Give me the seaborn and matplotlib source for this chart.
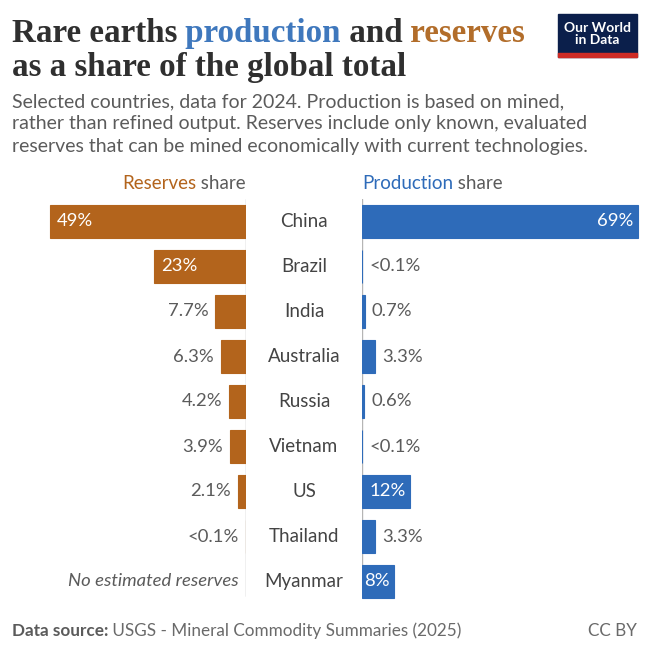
import matplotlib
matplotlib.use("Agg")
import matplotlib.pyplot as plt
import matplotlib.patches as mpatches
import matplotlib.transforms as mtransforms
import seaborn as sns
import pandas as pd
import numpy as np

countries = ["China", "Brazil", "India", "Australia", "Russia", "Vietnam", "US", "Thailand", "Myanmar"]
reserves = [49, 23, 7.7, 6.3, 4.2, 3.9, 2.1, 0.05, np.nan]
production = [69, 0.05, 0.7, 3.3, 0.6, 0.05, 12, 3.3, 8]
reserves_labels = ["49%", "23%", "7.7%", "6.3%", "4.2%", "3.9%", "2.1%", "<0.1%", "No estimated reserves"]
production_labels = ["69%", "<0.1%", "0.7%", "3.3%", "0.6%", "<0.1%", "12%", "3.3%", "8%"]

BROWN = "#b3641c"
BLUE = "#2e6bb9"
GREY = "#5b5b5b"
DARK = "#2f2f2f"

sns.set_theme(style="white")
plt.rcParams["font.family"] = ["Lato", "DejaVu Sans"]

fig = plt.figure(figsize=(6.5, 6.5), dpi=100)
W = H = 650.0


def fx(px):
    return px / W


def fy(py):
    return 1 - py / H


df_r = pd.DataFrame({"country": countries, "share": reserves}).dropna()
df_p = pd.DataFrame({"country": countries, "share": production})

top, bottom = 199, 604
ax_l = fig.add_axes([fx(40), fy(bottom), fx(206), (bottom - top) / H])
ax_r = fig.add_axes([fx(362), fy(bottom), fx(278), (bottom - top) / H])

sns.barplot(data=df_r, x="share", y="country", order=countries, orient="h",
            color=BROWN, width=0.73, ax=ax_l, saturation=1,
            edgecolor=BROWN, linewidth=0.8, zorder=2)
sns.barplot(data=df_p, x="share", y="country", order=countries, orient="h",
            color=BLUE, width=0.73, ax=ax_r, saturation=1,
            edgecolor=BLUE, linewidth=0.8, zorder=2)

ax_l.set_xlim(51.5, 0)
ax_r.set_xlim(0, 69.5)
for ax in (ax_l, ax_r):
    ax.set_ylim(8.5, -0.5)
    ax.axis("off")
    ax.axvline(0, color="#b5b5b5", lw=1, ymin=0.02, ymax=1, zorder=0.5)

fs = 13.3
inside = 8
for i, (v, lab) in enumerate(zip(reserves, reserves_labels)):
    if np.isnan(v):
        ax_l.annotate(lab, xy=(0, i), xytext=(-5, 0), textcoords="offset points",
                      ha="right", va="center", fontsize=fs, color=GREY, style="italic")
    elif v >= inside:
        ax_l.annotate(lab, xy=(v, i), xytext=(5, 0), textcoords="offset points",
                      ha="left", va="center", fontsize=fs, color="white")
    else:
        ax_l.annotate(lab, xy=(v, i), xytext=(-5, 0), textcoords="offset points",
                      ha="right", va="center", fontsize=fs, color=GREY)

for i, (v, lab) in enumerate(zip(production, production_labels)):
    if v >= inside:
        ax_r.annotate(lab, xy=(v, i), xytext=(-3, 0), textcoords="offset points",
                      ha="right", va="center", fontsize=fs, color="white")
    else:
        ax_r.annotate(lab, xy=(v, i), xytext=(5, 0), textcoords="offset points",
                      ha="left", va="center", fontsize=fs, color=GREY)

# country names in the middle column
tr = mtransforms.blended_transform_factory(fig.transFigure, ax_l.transData)
for i, c in enumerate(countries):
    fig.text(fx(304), i, c, transform=tr, ha="center", va="center",
             fontsize=13.5, color="#444444")

renderer = fig.canvas.get_renderer()


def pieces(x, y, parts, **kw):
    for txt, color, weight in parts:
        t = fig.text(x, y, txt, color=color, fontweight=weight, va="baseline", **kw)
        bb = t.get_window_extent(renderer)
        x = fig.transFigure.inverted().transform((bb.x1, bb.y0))[0]


serif = ["Liberation Serif", "DejaVu Serif"]
pieces(fx(12), fy(42), [("Rare earths", DARK, "bold"), (" production", "#3f78bd", "bold"),
                         (" and", DARK, "bold"), (" reserves", "#b26d2a", "bold")],
       fontsize=23.8, family=serif)
fig.text(fx(12), fy(76), "as a share of the global total", fontsize=23.8, family=serif,
         fontweight="bold", color=DARK, va="baseline")

subtitle = ["Selected countries, data for 2024. Production is based on mined,",
            "rather than refined output. Reserves include only known, evaluated",
            "reserves that can be mined economically with current technologies."]
for k, line in enumerate(subtitle):
    fig.text(fx(12), fy(107 + 22.5 * k), line, fontsize=14, color=GREY, va="baseline")

# column headers
t = fig.text(fx(246), fy(189), " share", fontsize=13.5, color=GREY, ha="right", va="baseline")
bb = t.get_window_extent(renderer)
fig.text(fig.transFigure.inverted().transform((bb.x0, 0))[0], fy(189), "Reserves",
         fontsize=13.5, color=BROWN, ha="right", va="baseline")
pieces(fx(362), fy(189), [("Production", BLUE, "normal"), (" share", GREY, "normal")], fontsize=13.5)

# footer
pieces(fx(12), fy(636), [("Data source:", GREY, "bold"),
                         (" USGS - Mineral Commodity Summaries (2025)", "#6a6a6a", "normal")],
       fontsize=12.3)
fig.text(fx(637), fy(636), "CC BY", fontsize=12.3, color="#6a6a6a", ha="right", va="baseline")

# logo
fig.patches.append(mpatches.Rectangle((fx(558), fy(57)), fx(79), (57 - 14) / H,
                                      transform=fig.transFigure, color="#0b1f4b"))
fig.patches.append(mpatches.Rectangle((fx(558), fy(57)), fx(79), 3.5 / H,
                                      transform=fig.transFigure, color="#ce2b25"))
fig.text(fx(597.5), fy(34), "Our World\nin Data", ha="center", va="center", color="white",
         fontsize=10, fontweight="bold", linespacing=1.0)

fig.savefig("out.png", dpi=100, facecolor="white")
